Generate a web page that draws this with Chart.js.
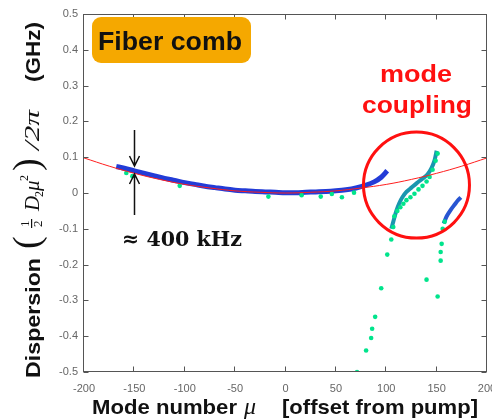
<!DOCTYPE html>
<html>
<head>
<meta charset="utf-8">
<script src="https://cdn.jsdelivr.net/npm/chart.js@4/dist/chart.umd.min.js"></script>
<style>
  html, body { margin: 0; padding: 0; background: #fff; }
</style>
</head>
<body>
<canvas id="dispChart" width="492" height="419"></canvas>
<script>
// axis ticks
const modeTicks = [-200, -150, -100, -50, 0, 50, 100, 150, 200];
const dispTicks = [-0.5, -0.4, -0.3, -0.2, -0.1, 0, 0.1, 0.2, 0.3, 0.4, 0.5];
const dispLabels = ['-0.5', '-0.4', '-0.3', '-0.2', '-0.1', '0', '0.1', '0.2', '0.3', '0.4', '0.5'];

// red parabola fit
const fitMode = [-200, -175, -150, -125, -100, -75, -50, -25, 0, 25, 50, 75, 100, 125, 150, 175, 200];
const fitDisp = [0.098, 0.075, 0.055, 0.038, 0.024, 0.014, 0.006, 0.002, 0.000, 0.002, 0.006, 0.014, 0.024, 0.038, 0.055, 0.075, 0.098];

// measured modes (main blue trace)
const blueMode = [-168, -160, -150, -140, -130, -120, -110, -100, -90, -80, -70, -60, -50, -40, -30, -20, -10, 0, 10, 20, 30, 40, 50, 60, 70, 80, 88, 95, 101];
const blueDisp = [0.074, 0.069, 0.062, 0.055, 0.048, 0.041, 0.035, 0.029, 0.024, 0.019, 0.015, 0.011, 0.008, 0.006, 0.004, 0.003, 0.002, 0.001, 0.001, 0.002, 0.003, 0.004, 0.006, 0.009, 0.014, 0.022, 0.031, 0.044, 0.062];

// coupled branch around mu ~ 130
const tealMode = [105, 107, 110, 113, 116, 120, 125, 130, 135, 141, 145, 148, 150];
const tealDisp = [-0.100, -0.080, -0.050, -0.028, -0.012, 0.003, 0.015, 0.027, 0.038, 0.052, 0.070, 0.092, 0.118];

// coupled branch around mu ~ 165
const edgeMode = [157, 160, 164, 168, 171, 174];
const edgeDisp = [-0.085, -0.065, -0.047, -0.032, -0.021, -0.012];

// second measurement (green dots)
const greenMode = [-158, -152, -105, -17, 16, 35, 46, 56, 68,
  108, 111, 114, 117, 120, 124, 128, 132, 136, 140, 143, 146, 149, 151,
  107, 105, 101, 95, 89, 86, 85, 80, 71,
  158, 156, 155, 154, 154, 140, 151];
const greenDisp = [0.056, 0.047, 0.020, -0.010, -0.006, -0.010, -0.003, -0.012, 0.001,
  -0.065, -0.050, -0.040, -0.030, -0.020, -0.012, -0.002, 0.010, 0.020, 0.032, 0.045, 0.065, 0.090, 0.110,
  -0.095, -0.130, -0.172, -0.266, -0.346, -0.379, -0.405, -0.440, -0.500,
  -0.080, -0.100, -0.142, -0.165, -0.189, -0.242, -0.289];

const pts = (xs, ys) => xs.map((v, i) => ({x: v, y: ys[i]}));

function stretchText(ctx, txt, font, x, yb, w) {
  ctx.font = font;
  const m = ctx.measureText(txt).width;
  ctx.save();
  ctx.translate(x, yb);
  if (w) ctx.scale(w / m, 1);
  ctx.textAlign = 'left';
  ctx.textBaseline = 'alphabetic';
  ctx.fillText(txt, 0, 0);
  ctx.restore();
}

const annotate = {
  id: 'annotate',
  afterDraw(chart) {
    const {ctx, chartArea: a, scales: {x, y}} = chart;
    ctx.save();

    // axes box with inward ticks
    ctx.strokeStyle = '#555';
    ctx.lineWidth = 1;
    const L = Math.round(a.left) - 0.5, R = Math.round(a.right) - 0.5;
    const T = Math.round(a.top) + 0.5, B = Math.round(a.bottom) - 0.5;
    ctx.strokeRect(L, T, R - L, B - T);
    ctx.beginPath();
    modeTicks.forEach(v => {
      const px = Math.round(x.getPixelForValue(v)) - 0.5;
      ctx.moveTo(px, B); ctx.lineTo(px, B - 5);
      ctx.moveTo(px, T); ctx.lineTo(px, T + 5);
    });
    dispTicks.forEach(v => {
      const py = Math.round(y.getPixelForValue(v)) + 0.5;
      ctx.moveTo(L, py); ctx.lineTo(L + 5, py);
      ctx.moveTo(R, py); ctx.lineTo(R - 5, py);
    });
    ctx.stroke();

    // "Fiber comb" label
    ctx.fillStyle = '#f5a800';
    ctx.beginPath();
    ctx.roundRect(92, 17, 159, 46, 9);
    ctx.fill();
    ctx.fillStyle = '#111';
    stretchText(ctx, 'Fiber comb', 'bold 25px "Liberation Sans", Arial, sans-serif', 98, 50, 144);

    // mode coupling marker
    ctx.fillStyle = '#ff1010';
    stretchText(ctx, 'mode', 'bold 23px "Liberation Sans", Arial, sans-serif', 380, 82, 72);
    stretchText(ctx, 'coupling', 'bold 23px "Liberation Sans", Arial, sans-serif', 362, 113, 110);
    ctx.strokeStyle = '#ff1010';
    ctx.lineWidth = 3;
    ctx.beginPath();
    ctx.arc(x.getPixelForValue(130), y.getPixelForValue(0.022), 53, 0, Math.PI * 2);
    ctx.stroke();

    // linewidth arrows at mu = -150
    const ax = Math.round(x.getPixelForValue(-150)) + 0.5;
    ctx.strokeStyle = '#111';
    ctx.lineWidth = 1.5;
    ctx.beginPath();
    ctx.moveTo(ax, 130); ctx.lineTo(ax, 166);
    ctx.moveTo(ax - 5, 156); ctx.lineTo(ax, 166); ctx.lineTo(ax + 5, 156);
    ctx.moveTo(ax, 215); ctx.lineTo(ax, 174);
    ctx.moveTo(ax - 5, 184); ctx.lineTo(ax, 174); ctx.lineTo(ax + 5, 184);
    ctx.stroke();
    ctx.fillStyle = '#111';
    stretchText(ctx, '\u2248 400 kHz', 'bold 21px "DejaVu Serif", "Liberation Serif", serif', 122, 246, 120);

    // x-axis title
    const sansB = 'bold 21px "Liberation Sans", Arial, sans-serif';
    stretchText(ctx, 'Mode number', sansB, 92, 414, 145);
    stretchText(ctx, '\u03bc', 'italic 24px "Liberation Serif", serif', 244, 414);
    stretchText(ctx, '[offset from pump]', sansB, 282, 414, 196);

    // y-axis title (rotated); u = -canvasY, v = canvasX - 40
    ctx.save();
    ctx.translate(40, 0);
    ctx.rotate(-Math.PI / 2);
    const ser = (s) => s + 'px "Liberation Serif", "DejaVu Serif", serif';
    stretchText(ctx, 'Dispersion', sansB, -378, 0, 120);
    stretchText(ctx, '(', ser(38), -249, -1);
    stretchText(ctx, '1', ser(13), -227, -11);
    stretchText(ctx, '2', ser(13), -227, 2);
    ctx.fillRect(-228, -9, 9, 1.2);
    stretchText(ctx, 'D', 'italic ' + ser(21), -211, -1);
    stretchText(ctx, '2', ser(12), -197, 3);
    stretchText(ctx, '\u03bc', 'italic ' + ser(21), -191, -1);
    stretchText(ctx, '2', ser(12), -181, -12);
    stretchText(ctx, ')', ser(38), -171, -1);
    stretchText(ctx, '/2\u03c0', 'italic ' + ser(22), -150, -1, 40);
    stretchText(ctx, '(GHz)', sansB, -82, 0, 60);
    ctx.restore();

    ctx.restore();
  }
};

const chart = new Chart(document.getElementById('dispChart'), {
  type: 'scatter',
  data: {
    datasets: [
      {
        label: 'fit',
        data: pts(fitMode, fitDisp),
        showLine: true,
        borderColor: 'rgb(255,30,30)',
        borderWidth: 1,
        pointRadius: 0,
        tension: 0.4,
        order: 0
      },
      {
        label: 'green',
        data: pts(greenMode, greenDisp),
        backgroundColor: 'rgb(0,228,140)',
        borderWidth: 0,
        pointRadius: 2.3,
        order: 1
      },
      {
        label: 'blue',
        data: pts(blueMode, blueDisp),
        showLine: true,
        borderColor: 'rgb(35,60,215)',
        borderWidth: 5,
        pointRadius: 0,
        tension: 0.3,
        order: 2
      },
      {
        label: 'teal',
        data: pts(tealMode, tealDisp),
        showLine: true,
        borderColor: 'rgb(25,150,175)',
        borderWidth: 4,
        pointRadius: 0,
        tension: 0.3,
        order: 2
      },
      {
        label: 'edge',
        data: pts(edgeMode, edgeDisp),
        showLine: true,
        borderColor: 'rgb(40,85,210)',
        borderWidth: 4,
        pointRadius: 0,
        tension: 0.3,
        order: 2
      }
    ]
  },
  options: {
    responsive: false,
    animation: false,
    devicePixelRatio: 1,
    layout: { padding: { top: 14, right: 5, left: 0, bottom: 0 } },
    plugins: { legend: { display: false }, tooltip: { enabled: false } },
    scales: {
      x: {
        type: 'linear',
        min: -200, max: 200,
        afterBuildTicks: s => { s.ticks = modeTicks.map(v => ({value: v})); },
        afterFit: s => { s.height = 47; s.paddingLeft = 0; s.paddingRight = 0; },
        grid: { display: false, drawTicks: false },
        border: { display: false },
        ticks: { padding: 10, color: '#666', font: { size: 11, family: '"Liberation Sans", Arial, sans-serif' }, maxRotation: 0 }
      },
      y: {
        type: 'linear',
        min: -0.5, max: 0.5,
        afterBuildTicks: s => { s.ticks = dispTicks.map(v => ({value: v})); },
        afterFit: s => { s.width = 84; s.paddingTop = 0; s.paddingBottom = 0; },
        grid: { display: false, drawTicks: false },
        border: { display: false },
        ticks: {
          padding: 6, color: '#666',
          font: { size: 11, family: '"Liberation Sans", Arial, sans-serif' },
          callback: (v, i) => dispLabels[i]
        }
      }
    }
  },
  plugins: [annotate]
});
</script>
</body>
</html>
